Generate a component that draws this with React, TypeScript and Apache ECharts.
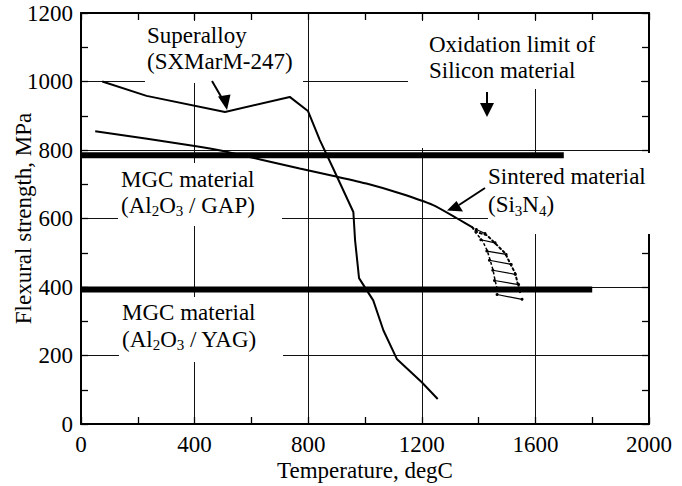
import { useEffect, useRef } from "react";
import * as echarts from "echarts";

const FONT = '"Liberation Serif", "Times New Roman", Times, serif';

// Axis ticks
const xTicks = [0, 400, 800, 1200, 1600, 2000];
const yTicks = [0, 200, 400, 600, 800, 1000, 1200];

// Superalloy (SXMarM-247)
const superalloyTemp = [75, 231, 507, 735, 799, 841, 888, 959, 965, 979, 1029, 1065, 1112, 1200, 1256];
const superalloyStrength = [1000, 958, 911, 955, 914, 829, 746, 619, 537, 426, 361, 273, 190, 122, 73];

// Sintered material (Si3N4)
const sinteredTemp = [50, 400, 500, 770, 890, 1005, 1125, 1240, 1325, 1377];
const sinteredStrength = [855, 812, 797, 746, 724, 702, 673, 639, 600, 575];

// MGC materials (flat)
const gapTemp = [0, 1700];
const gapStrength = [785, 785];
const yagTemp = [0, 1800];
const yagStrength = [393, 393];

// Scatter band of sintered material at high temperature
const bandLeftTemp = [1377, 1388, 1413, 1430, 1441, 1451, 1458, 1465];
const bandLeftStrength = [575, 560, 536, 507, 478, 449, 419, 396];
const bandRightTemp = [1377, 1395, 1430, 1459, 1494, 1511, 1529, 1539, 1546];
const bandRightStrength = [575, 560, 551, 527, 498, 469, 440, 405, 385];
const hatchFromTemp = [1392, 1408, 1429, 1438, 1450, 1456, 1465];
const hatchFromStrength = [568, 538, 505, 478, 449, 419, 378];
const hatchToTemp = [1423, 1458, 1497, 1515, 1529, 1541, 1553];
const hatchToStrength = [556, 529, 495, 466, 437, 407, 364];

const zip = (xs: number[], ys: number[]) => xs.map((x, i) => [x, ys[i]]);

const lineSeries = (name: string, xs: number[], ys: number[], extra: any = {}) => ({
  type: "line",
  name,
  data: zip(xs, ys),
  xAxisIndex: 0,
  yAxisIndex: 0,
  symbol: "none",
  showSymbol: false,
  silent: true,
  lineStyle: { color: "#000", width: 2, ...(extra.lineStyle || {}) },
  ...Object.fromEntries(Object.entries(extra).filter(([k]) => k !== "lineStyle")),
});

const tickStyle = { color: "#000", width: 1.3 };

const makeAxis = (ticks: number[], extra: any) => ({
  type: "value",
  min: ticks[0],
  max: ticks[ticks.length - 1],
  interval: ticks[1] - ticks[0],
  axisLine: { show: true, onZero: false, lineStyle: { color: "#000", width: 2 } },
  axisTick: { show: true, inside: true, length: 7, lineStyle: tickStyle },
  minorTick: { show: true, splitNumber: 2, length: 7, lineStyle: tickStyle },
  ...extra,
});

const labelFont = { fontFamily: FONT, fontSize: 23, color: "#000" };
const plainNumber = (v: number) => String(v);

const subStyle = {
  fontSize: 15,
  fontFamily: FONT,
  fill: "#000",
  lineHeight: 14,
  verticalAlign: "bottom",
};

const textEl = (x: number, y: number, text: string, lineHeight = 26) => ({
  type: "text",
  z: 4,
  x,
  y,
  silent: true,
  style: {
    text,
    fontSize: 23,
    fontFamily: FONT,
    fill: "#000",
    lineHeight,
    align: "left",
    verticalAlign: "top",
    rich: { sub: subStyle },
  },
});

const boxEl = (x: number, y: number, w: number, h: number) => ({
  type: "rect",
  z: 1,
  silent: true,
  shape: { x, y, width: w, height: h },
  style: { fill: "#fff" },
});

const arrowEl = (shaft: number[], head: number[][]) => [
  {
    type: "line",
    z: 5,
    silent: true,
    shape: { x1: shaft[0], y1: shaft[1], x2: shaft[2], y2: shaft[3] },
    style: { stroke: "#000", lineWidth: 2 },
  },
  {
    type: "polygon",
    z: 5,
    silent: true,
    shape: { points: head },
    style: { fill: "#000" },
  },
];

export default function App() {
  const ref = useRef<HTMLDivElement>(null);

  useEffect(() => {
    if (!ref.current) return;
    const chart = echarts.init(ref.current, undefined, { renderer: "svg" });

    const option: any = {
      animation: false,
      backgroundColor: "#fff",
      textStyle: { fontFamily: FONT },
      grid: { left: 81, right: 33, top: 13, bottom: 62, outerBoundsMode: "none", containLabel: false },
      xAxis: [
        makeAxis(xTicks, {
          position: "bottom",
          splitLine: { show: true, lineStyle: { color: "#111", width: 1 } },
          axisLabel: { ...labelFont, margin: 9, formatter: plainNumber },
          name: "Temperature, degC",
          nameLocation: "middle",
          nameGap: 35,
          nameMoveOverlap: false,
          nameTextStyle: labelFont,
        }),
        makeAxis(xTicks, {
          position: "top",
          splitLine: { show: false },
          axisLabel: { show: false },
        }),
      ],
      yAxis: [
        makeAxis(yTicks, {
          position: "left",
          splitLine: { show: true, lineStyle: { color: "#111", width: 1 } },
          axisLabel: { ...labelFont, margin: 8, padding: [12, 0, 0, 0], formatter: plainNumber },
          name: "Flexural strength, MPa",
          nameLocation: "middle",
          nameGap: 46,
          nameMoveOverlap: false,
          nameTextStyle: labelFont,
        }),
        makeAxis(yTicks, {
          position: "right",
          splitLine: { show: false },
          axisLabel: { show: false },
        }),
      ],
      series: [
        lineSeries("MGC material (Al2O3/GAP)", gapTemp, gapStrength, { lineStyle: { width: 6, cap: "butt" } }),
        lineSeries("MGC material (Al2O3/YAG)", yagTemp, yagStrength, { lineStyle: { width: 6, cap: "butt" } }),
        lineSeries("Superalloy (SXMarM-247)", superalloyTemp, superalloyStrength, { lineStyle: { width: 2 } }),
        lineSeries("Sintered material (Si3N4)", sinteredTemp, sinteredStrength, { smooth: 0.2, lineStyle: { width: 2 } }),
        lineSeries("Scatter band left", bandLeftTemp, bandLeftStrength, { lineStyle: { width: 1.5, type: [3, 2] } }),
        lineSeries("Scatter band right", bandRightTemp, bandRightStrength, { lineStyle: { width: 2, type: [2, 3], cap: "round" } }),
        {
          type: "lines",
          name: "Scatter band hatch",
          coordinateSystem: "cartesian2d",
          xAxisIndex: 0,
          yAxisIndex: 0,
          silent: true,
          symbol: ["circle", "circle"],
          symbolSize: 3,
          lineStyle: { color: "#000", width: 1.2, opacity: 1 },
          data: hatchFromTemp.map((x, i) => ({
            coords: [
              [x, hatchFromStrength[i]],
              [hatchToTemp[i], hatchToStrength[i]],
            ],
          })),
        },
      ],
      graphic: {
        elements: [
          boxEl(145, 21, 158, 62),
          boxEl(408, 21, 233, 68),
          boxEl(408, 89, 122, 59),
          boxEl(118, 163, 164, 63),
          boxEl(119, 297, 164, 65),
          boxEl(488, 153, 164, 81),
          textEl(147, 22.5, "Superalloy\n(SXMarM-247)"),
          textEl(429, 31, "Oxidation limit of\nSilicon material"),
          textEl(121, 166.5, "MGC material\n(Al{sub|2}O{sub|3} / GAP)"),
          textEl(122, 299.5, "MGC material\n(Al{sub|2}O{sub|3} / YAG)", 26.5),
          textEl(488, 162, "Sintered material\n(Si{sub|3}N{sub|4})", 28),
          ...arrowEl([212, 81, 223, 100], [[218, 96.5], [230.5, 94.5], [227, 110]]),
          ...arrowEl([487, 92, 487, 104], [[480, 103], [494, 103], [487, 117]]),
          ...arrowEl([485, 188, 459, 205], [[447, 210.5], [456.5, 201], [463, 211.5]]),
        ],
      },
    };

    chart.setOption(option);
    return () => chart.dispose();
  }, []);

  return (
    <div
      ref={ref}
      style={{ position: "absolute", left: 0, top: 0, width: 682, height: 486, background: "#fff" }}
    />
  );
}
